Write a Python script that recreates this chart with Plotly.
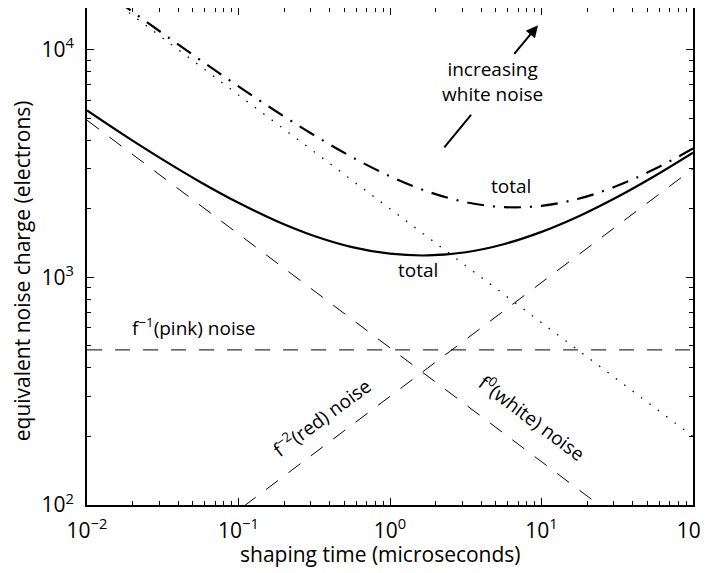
import plotly.graph_objects as go

# shaping time grid (microseconds), quarter-decade steps
tau = [0.01, 0.01778, 0.03162, 0.05623, 0.1, 0.1778, 0.3162, 0.5623, 1.0,
       1.778, 3.162, 5.623, 10.0, 17.78, 31.62, 56.23, 100.0]

# components (electrons)
white_noise = [4900, 3674, 2756, 2067, 1550, 1162, 871.4, 653.4, 490, 367.5,
               275.5, 206.6, 155.0, 116.2, 87.1, 65.3, 49.0]
white_noise_high = [20000, 14997, 11247, 8435, 6325, 4743, 3557, 2667, 2000,
                    1500, 1125, 843.4, 632.5, 474.3, 355.7, 266.7, 200]
pink_noise = [480] * 17
red_noise = [30, 40.0, 53.3, 71.1, 94.9, 126.5, 168.7, 225.0, 300, 400.0,
             533.5, 711.4, 948.7, 1265, 1687, 2250, 3000]
total = [5410, 4193, 3289, 2618, 2125, 1769, 1520, 1358, 1270, 1248, 1289,
         1398, 1584, 1861, 2254, 2795, 3529]
total_high = [20510, 15517, 11780, 8986, 6900, 5349, 4206, 3372, 2780, 2380,
              2139, 2035, 2061, 2219, 2523, 2996, 3680]

x_ticks = [0.01, 0.1, 1, 10, 100]
x_ticktext = ["10<sup>−2</sup>", "10<sup>−1</sup>", "10<sup>0</sup>",
              "10<sup>1</sup>", "10<sup>2</sup>"]
y_ticks = [100, 1000, 10000]
y_ticktext = ["10<sup>2</sup>", "10<sup>3</sup>", "10<sup>4</sup>"]

x_minor = [m * d for d in [0.01, 0.1, 1, 10] for m in range(2, 10)]
y_minor = [m * d for d in [100, 1000, 10000] for m in range(2, 10)]

FONT = "Open Sans"
DASH = "15px,13px"

fig = go.Figure()
fig.add_trace(go.Scatter(x=tau, y=white_noise, mode="lines",
                         line=dict(color="black", width=1, dash=DASH)))
fig.add_trace(go.Scatter(x=tau, y=pink_noise, mode="lines",
                         line=dict(color="black", width=1, dash=DASH)))
fig.add_trace(go.Scatter(x=tau, y=red_noise, mode="lines",
                         line=dict(color="black", width=1, dash=DASH)))
fig.add_trace(go.Scatter(x=tau, y=white_noise_high, mode="lines",
                         line=dict(color="black", width=1.3, dash="1.5px,9px")))
fig.add_trace(go.Scatter(x=tau, y=total, mode="lines",
                         line=dict(color="black", width=2.2, shape="spline")))
fig.add_trace(go.Scatter(x=tau, y=total_high, mode="lines",
                         line=dict(color="black", width=2.2, shape="spline",
                                   dash="17px,9px,2px,9px")))

ann_font = dict(family=FONT, size=19, color="black")
annotations = [
    dict(x=-1.300, y=2.780, text="f<sup>−1</sup>(pink) noise", showarrow=False,
         font=ann_font),
    dict(x=-0.452, y=2.385, text="f<sup>−2</sup>(red) noise", showarrow=False,
         textangle=-36.5, font=ann_font),
    dict(x=0.934, y=2.385, text="f<sup>0</sup>(white) noise", showarrow=False,
         textangle=37, font=ann_font),
    dict(x=0.799, y=3.402, text="total", showarrow=False, font=ann_font),
    dict(x=0.185, y=3.032, text="total", showarrow=False, font=ann_font),
    dict(x=0.676, y=3.862, text="increasing<br>white noise", showarrow=False,
         font=ann_font),
    dict(x=0.977, y=4.107, text="", showarrow=True, ax=-25, ay=30,
         arrowhead=2, arrowsize=1.2, arrowwidth=2, arrowcolor="black"),
    dict(x=0.535, y=3.714, text="", showarrow=True, ax=-28, ay=34,
         arrowhead=0, arrowwidth=2, arrowcolor="black"),
]
for a in annotations:
    a["xref"] = "x"
    a["yref"] = "y"
    a["xanchor"] = "center"
    a["yanchor"] = "middle"

# axis titles placed as paper annotations (plot area is 606 x 489 px)
annotations += [
    dict(x=(380 - 87) / 606, y=(497 - 545) / 489, xref="paper", yref="paper",
         xanchor="center", yanchor="middle",
         text="shaping time (microseconds)", showarrow=False,
         font=dict(family=FONT, size=21, color="black")),
    dict(x=(22 - 87) / 606, y=(497 - 267) / 489, xref="paper", yref="paper",
         xanchor="center", yanchor="middle", textangle=-90,
         text="equivalent noise charge (electrons)", showarrow=False,
         font=dict(family=FONT, size=21, color="black")),
]
fig.update_layout(annotations=annotations)

axis_common = dict(
    type="log", showgrid=False, zeroline=False, showline=True,
    linecolor="black", linewidth=2, mirror="allticks",
    ticks="inside", ticklen=7, tickwidth=1, tickcolor="black",
    tickfont=dict(family=FONT, size=21, color="black"),
    tickmode="array", automargin=False, ticklabeloverflow="allow",
)
fig.update_xaxes(**axis_common, range=[-2, 2], tickvals=x_ticks,
                 ticktext=x_ticktext, ticklabelstandoff=6,
                 minor=dict(tickmode="array", tickvals=x_minor, ticks="inside",
                            ticklen=4, tickcolor="black", showgrid=False))
fig.update_yaxes(**axis_common, range=[2, 4.183], tickvals=y_ticks,
                 ticktext=y_ticktext, ticklabelstandoff=7,
                 minor=dict(tickmode="array", tickvals=y_minor, ticks="inside",
                            ticklen=4, tickcolor="black", showgrid=False))

# the page body adds an 8px offset, so the figure is 8px smaller
fig.update_layout(
    width=700, height=565,
    margin=dict(l=79, r=15, t=0, b=68),
    plot_bgcolor="white", paper_bgcolor="white",
    showlegend=False,
    font=dict(family=FONT, color="black"),
)

fig.write_html("out.html")
